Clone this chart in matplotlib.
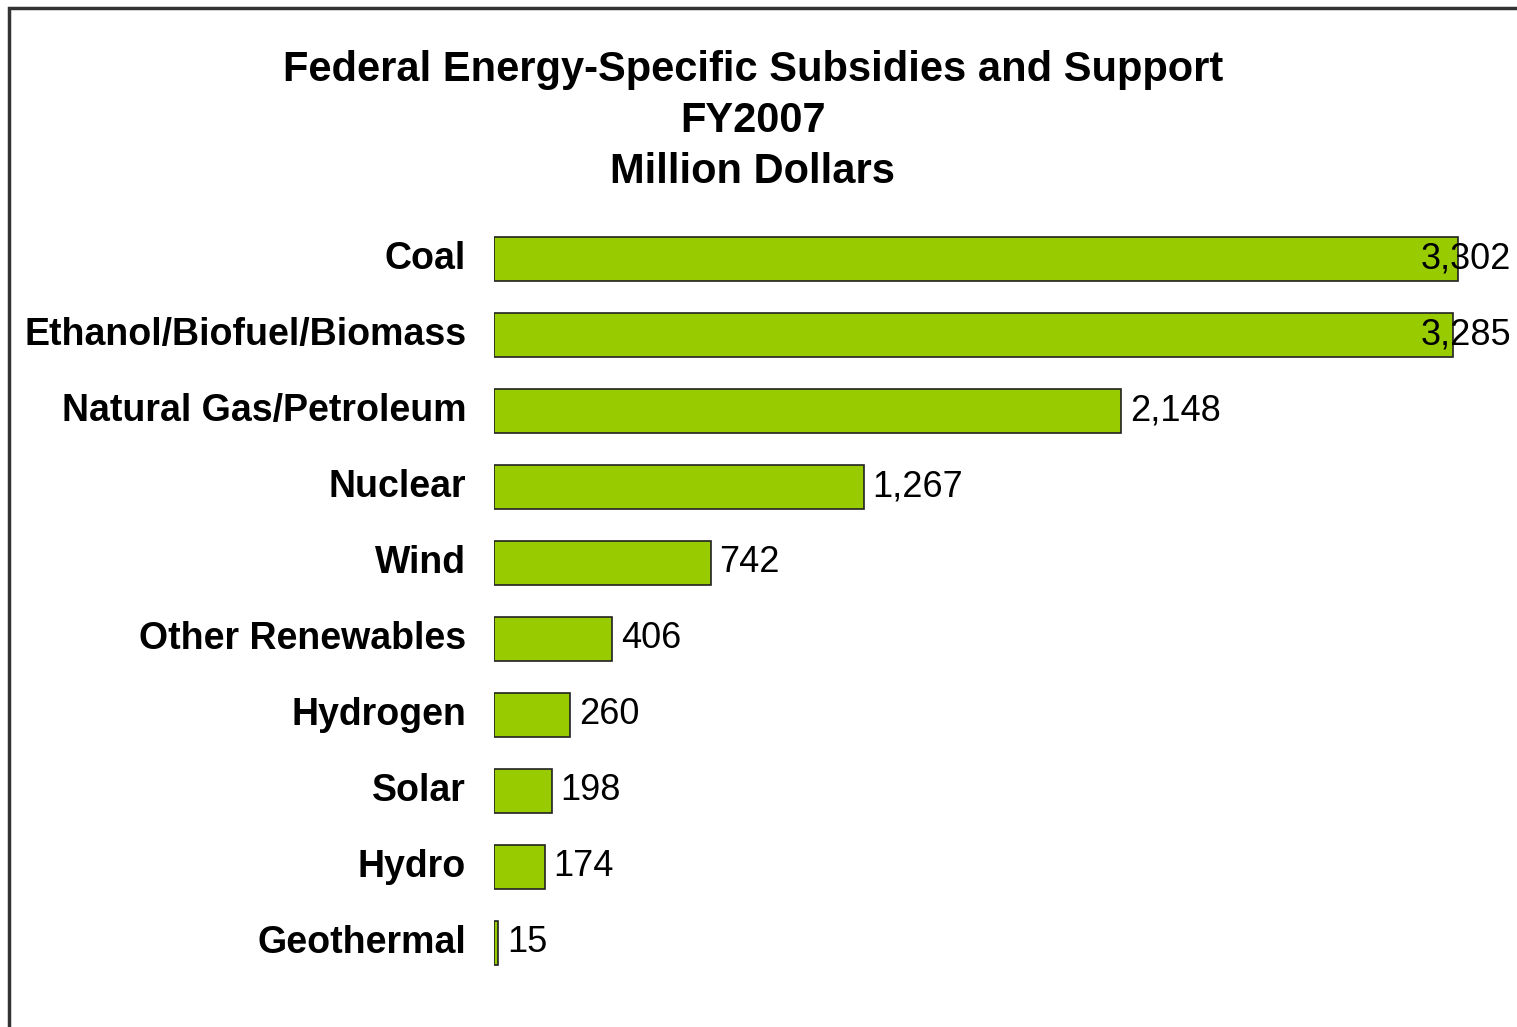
import matplotlib.pyplot as plt
from matplotlib.patches import Rectangle

categories = ["Coal", "Ethanol/Biofuel/Biomass", "Natural Gas/Petroleum", "Nuclear", "Wind",
              "Other Renewables", "Hydrogen", "Solar", "Hydro", "Geothermal"]
values = [3302, 3285, 2148, 1267, 742, 406, 260, 198, 174, 15]
title_lines = ["Federal Energy-Specific Subsidies and Support", "FY2007", "Million Dollars"]

plt.rcParams['font.family'] = ['Liberation Sans', 'DejaVu Sans']

fig = plt.figure(figsize=(15.17, 10.27), dpi=100)
fig.patch.set_facecolor('white')

# outer frame (runs off the right and bottom edge like the screenshot)
fig.patches.append(Rectangle((9 / 1517, -0.2), 1.5, 1 - 8 / 1027 + 0.2, transform=fig.transFigure,
                             fill=False, edgecolor='#333333', linewidth=2.5))

ax = fig.add_axes([494 / 1517, 1 - 981 / 1027, 1 - 494 / 1517, 760 / 1027])
ypos = list(range(len(categories)))
ax.barh(ypos, values, height=0.58, color='#99CC00', edgecolor='#222222', linewidth=1.2)
ax.set_xlim(0, 3505)
ax.set_ylim(len(categories) - 0.5, -0.5)

for y, v in zip(ypos, values):
    if v > 3000:
        ax.text(3485, y, f"{v:,}", ha='right', va='center', fontsize=26, color='black')
    else:
        ax.text(v + 30, y, f"{v:,}", ha='left', va='center', fontsize=26, color='black')

ax.set_yticks(ypos)
ax.set_yticklabels(categories, fontsize=27, fontweight='bold', va='center')
ax.tick_params(axis='y', length=0, pad=20)
ax.set_xticks([])
for s in ax.spines.values():
    s.set_visible(False)

fig.text(753 / 1517, 1 - 121 / 1027, "\n".join(title_lines), ha='center', va='center',
         fontsize=30, fontweight='bold', linespacing=1.34)

fig.savefig("out.png", dpi=100)
